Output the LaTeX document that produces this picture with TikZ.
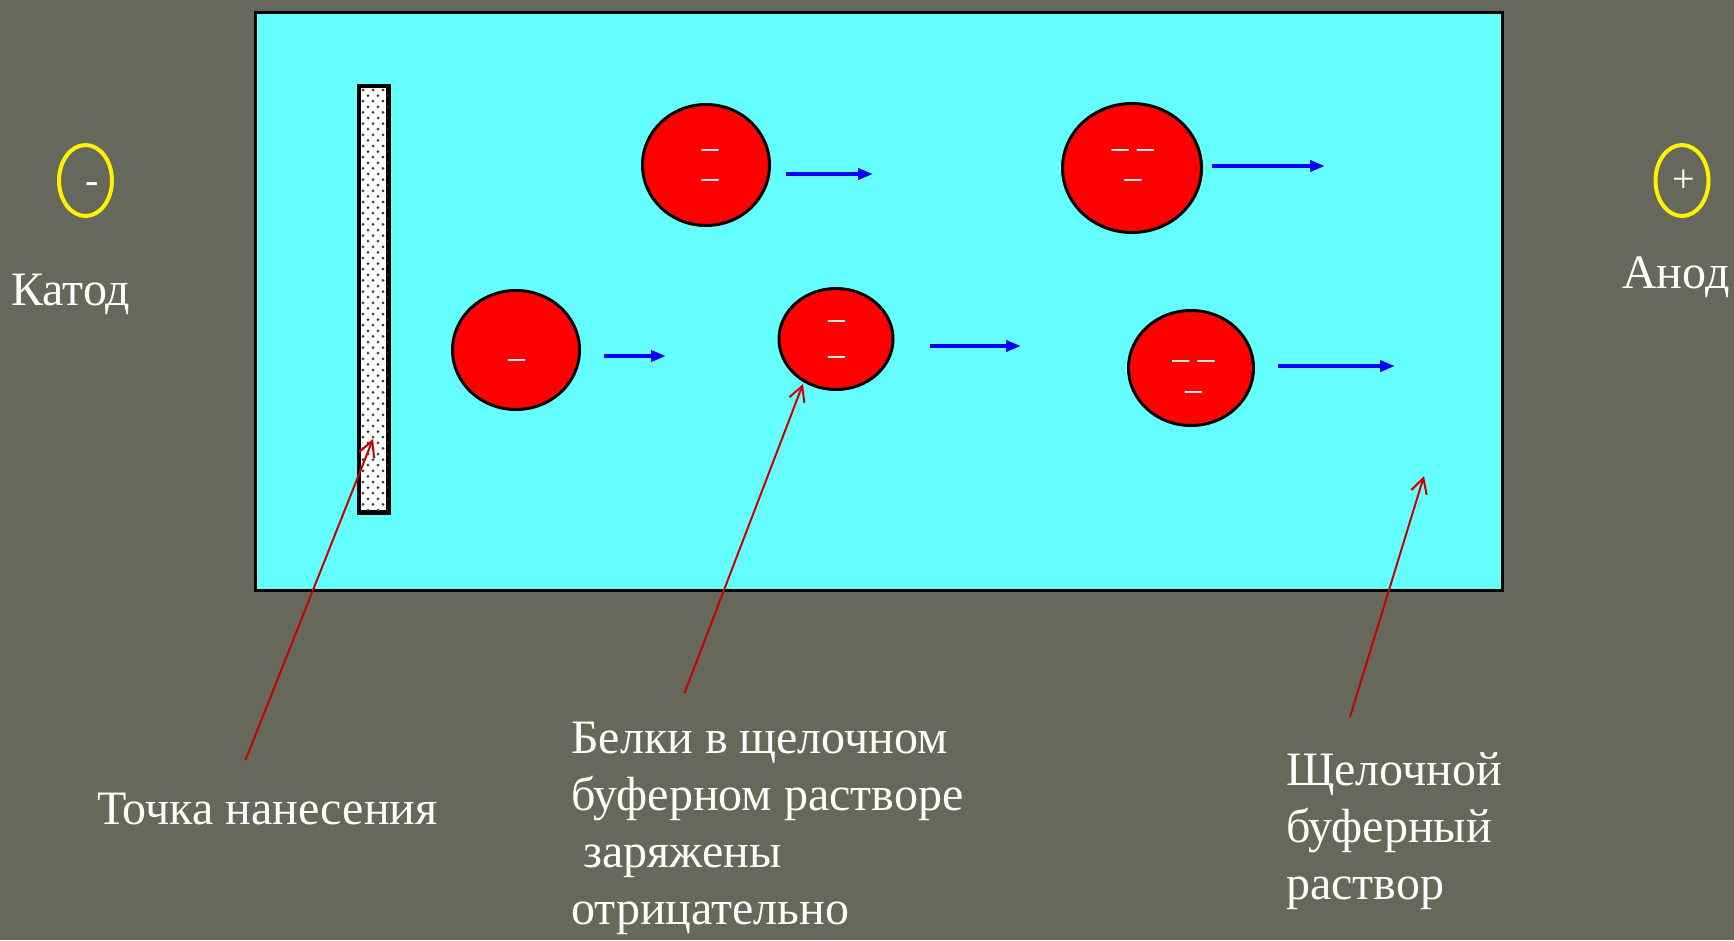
\documentclass[tikz,border=0pt]{standalone}
\usepackage{fontspec}
\setmainfont{Liberation Serif}
\newfontfamily\dashfont[FakeStretch=1.3]{Liberation Serif}
\usetikzlibrary{arrows.meta,shapes.geometric}
\definecolor{slate}{RGB}{102,104,91}
\definecolor{bath}{RGB}{102,255,255}
\definecolor{pointer}{RGB}{200,0,0}
\definecolor{speck}{RGB}{60,60,60}
\newcommand{\chargerows}[1]{\begin{tabular}[t]{@{}c@{}}#1\end{tabular}}
\begin{document}
\begin{tikzpicture}[x=1pt,y=-1pt,
  protein/.style={ellipse,draw=black,fill=red,line width=3pt,inner sep=0pt},
  pole/.style={ellipse,draw=yellow,line width=4pt,minimum width=53pt,minimum height=71pt,inner sep=0pt},
  charge/.style={text=white,font=\dashfont\bfseries\fontsize{26}{30}\selectfont,inner sep=0pt,anchor=base},
  sign/.style={text=white,font=\fontsize{40}{40}\selectfont,inner sep=0pt,anchor=base},
  label/.style={text=white,font=\fontsize{48}{57}\selectfont,inner sep=0pt,anchor=base west},
  drift/.style={draw=blue,line width=4pt,-{Triangle[length=15pt,width=11pt]}},
  pointto/.style={draw=pointer,line width=2pt,-{Straight Barb[length=15pt,width=16pt,line width=2pt]}}]
% page and margins
\fill[slate] (0,0) rectangle (1734,940);
\useasboundingbox (0,0) rectangle (1734,940);

% electrophoresis bath
\node[draw=black,fill=bath,line width=3pt,minimum width=1247pt,minimum height=578pt,inner sep=0pt] (bath) at (879,301.5) {};

% application strip
\node[draw=black,fill=white,line width=3pt,minimum width=28pt,minimum height=425pt,inner sep=0pt] (strip) at (373.5,299) {};
\begin{scope}
  \clip (359,88) rectangle (388,510);
  \foreach \r in {0,...,76} {
    \foreach \c in {0,...,3} {
      \pgfmathsetmacro{\dx}{363+\c*10+mod(\r,2)*5}
      \pgfmathsetmacro{\dy}{90+\r*5.6}
      \fill[speck] (\dx,\dy) circle (1.5pt);
    }
  }
\end{scope}
\draw[black,line width=3pt] (strip.north west) rectangle (strip.south east);

% electrodes
\node[pole] (cathode) at (85.5,180.5) {};
\node[sign] (cathodesign) at (92.5,193) {-};
\node[pole] (anode) at (1682,180.5) {};
\node[sign] (anodesign) at (1684,192) {+};
\node[label] (cathodetext) at (11,305) {Катод};
\node[label] (anodetext) at (1622,288) {Анод};

% proteins with their charges
\node[protein,minimum width=127pt,minimum height=121pt] (p1) at (706,165) {};
\node[charge] (p1q) at (710,156) {\chargerows{–\\–}};

\node[protein,minimum width=139pt,minimum height=129pt] (p2) at (1132,168) {};
\node[charge] (p2q) at (1133,156) {\chargerows{– –\\–}};

\node[protein,minimum width=127pt,minimum height=119pt] (p3) at (516,350) {};
\node[charge] (p3q) at (516.5,366) {–};

\node[protein,minimum width=114pt,minimum height=101pt] (p4) at (836,339) {};
\node[charge] (p4q) at (836.5,327) {\chargerows{–\\[6pt]–}};

\node[protein,minimum width=125pt,minimum height=115pt] (p5) at (1191,368) {};
\node[charge] (p5q) at (1193.5,367) {\chargerows{– –\\[1pt]–}};

% migration arrows
\coordinate (d1s) at (786,174);  \coordinate (d1e) at (873,174);
\coordinate (d2s) at (1212,166); \coordinate (d2e) at (1325,166);
\coordinate (d3s) at (604,356);  \coordinate (d3e) at (666,356);
\coordinate (d4s) at (930,346);  \coordinate (d4e) at (1021,346);
\coordinate (d5s) at (1278,366); \coordinate (d5e) at (1395,366);
\draw[drift] (d1s) -- (d1e);
\draw[drift] (d2s) -- (d2e);
\draw[drift] (d3s) -- (d3e);
\draw[drift] (d4s) -- (d4e);
\draw[drift] (d5s) -- (d5e);

% captions
\node[label] (spot) at (97,824) {Точка нанесения};
\node[label] (proteins) at (571,753) {\begin{tabular}[t]{@{}l@{}}Белки в щелочном\\буферном растворе\\\ заряжены\\отрицательно\end{tabular}};
\node[label] (buffer) at (1286,785) {\begin{tabular}[t]{@{}l@{}}Щелочной\\буферный\\раствор\end{tabular}};

% pointer lines
\coordinate (spotfoot) at (245.5,760);   \coordinate (spottip) at (373,439);
\coordinate (protfoot) at (684.5,693);   \coordinate (prottip) at (803,384);
\coordinate (buffoot) at (1350,717);     \coordinate (buftip) at (1424,476);
\draw[pointto] (spotfoot) -- (spottip);
\draw[pointto] (protfoot) -- (prottip);
\draw[pointto] (buffoot) -- (buftip);
\end{tikzpicture}
\end{document}
